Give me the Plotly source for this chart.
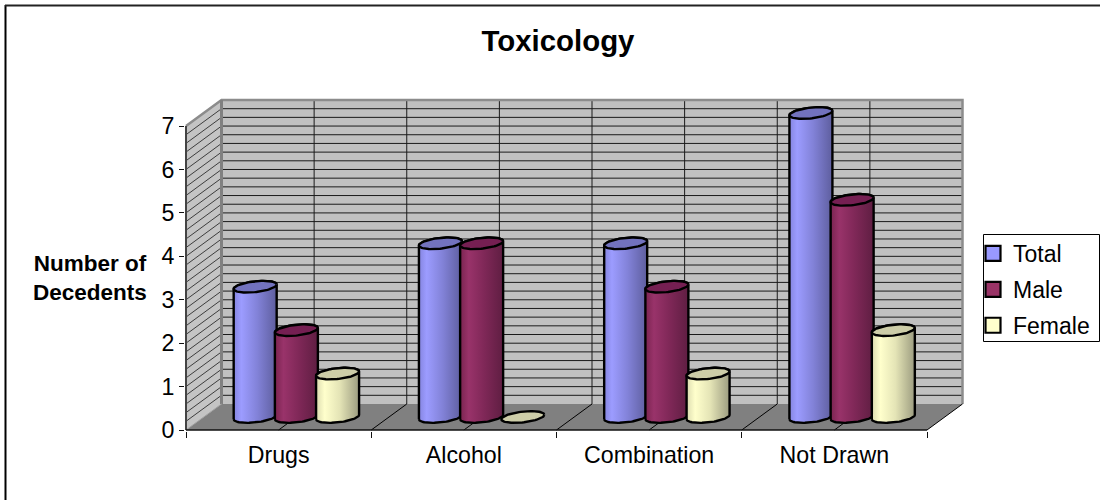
import numpy as np
import plotly.graph_objects as go

categories = ["Drugs", "Alcohol", "Combination", "Not Drawn"]
total = [3, 4, 4, 7]
male = [2, 4, 3, 5]
female = [1, 0, 1, 2]
y_ticks = [0, 1, 2, 3, 4, 5, 6, 7]

W, H = 1100, 500
X0, X4, Y7, Y0 = 186, 927, 126, 430
PX_X = (X4 - X0) / 4
PX_Y = (Y0 - Y7) / 7
FONT = "Liberation Sans, Arial, sans-serif"

# oblique depth of the box, in axis units
DX = 35.5 / PX_X
DY = 26 / PX_Y
BAR_OFFSET = 41.2 / PX_X
RX = 21.5 / PX_X
RY = 5.4 / PX_Y
TILT = 2.2 / PX_Y

# plot area slightly larger than the oblique box so its edges are not clipped
L, R, T, B = 185, 965, 98, 431
xrange_ = [(L - X0) / PX_X, (R - X0) / PX_X]
yrange_ = [(Y0 - B) / PX_Y, (Y0 - T) / PX_Y]


def paper_x(px):
    return (px - L) / (R - L)


def paper_y(px):
    return (B - px) / (B - T)


series = [
    ("Total", total, "#9999FF", "#7272BE",
     [[0, "#8585E0"], [0.18, "#9C9CFF"], [0.55, "#8282D8"], [1, "#5E5E9E"]]),
    ("Male", male, "#993366", "#751F52",
     [[0, "#7A2450"], [0.2, "#99336A"], [0.55, "#802858"], [1, "#5F1E42"]]),
    ("Female", female, "#FFFFCC", "#CDCDA8",
     [[0, "#DCDCB0"], [0.2, "#FFFFCC"], [0.55, "#E4E4B6"], [1, "#9C9C80"]]),
]

fig = go.Figure()


def poly(xs, ys, fill=None, line="rgba(0,0,0,0)", width=0, grad=None):
    kw = dict(x=list(xs), y=list(ys), mode="lines", hoverinfo="skip", showlegend=False,
              line=dict(color=line, width=width))
    if fill or grad:
        kw["fill"] = "toself"
    if fill:
        kw["fillcolor"] = fill
    if grad:
        kw["fillgradient"] = dict(type="horizontal", colorscale=grad)
    fig.add_trace(go.Scatter(**kw))


# walls and floor
poly([0, DX, DX, 0, 0], [0, DY, 7 + DY, 7, 0], fill="#C4C4C4")
poly([DX, 4 + DX, 4 + DX, DX, DX], [DY, DY, 7 + DY, 7 + DY, DY], fill="#C0C0C0")
poly([0, 4, 4 + DX, DX, 0], [0, 0, DY, DY, 0], fill="#808080")

# gridlines on the walls
levels = [i / 5 for i in range(1, 35)]
gx, gy, sx, sy = [], [], [], []
for v in levels:
    gx += [DX, 4 + DX, None]
    gy += [v + DY, v + DY, None]
    sx += [0, DX, None]
    sy += [v, v + DY, None]
poly(gx, gy, line="#1A1A1A", width=1)
poly(sx, sy, line="#1A1A1A", width=0.8)

vx, vy, fx, fy = [], [], [], []
for i in range(1, 8):
    c = i / 2
    vx += [c + DX, c + DX, None]
    vy += [DY, 7 + DY, None]
    fx += [c, c + DX, None]
    fy += [0, DY, None]
poly(vx, vy, line="#1A1A1A", width=1)
poly(fx, fy, line="#000000", width=1)

# grey box edges
poly([0, DX, 4 + DX, 4 + DX], [7, 7 + DY, 7 + DY, DY], line="#8C8C8C", width=2.5)
poly([DX, DX], [DY, 7 + DY], line="#808080", width=3)
poly([0, DX], [0, DY], line="#A0A0A0", width=1)
poly([4, 4 + DX], [0, DY], line="#000000", width=1)

# the visible axis lines stop at the front of the box
poly([0, 0], [0, 7], line="#444444", width=2)
poly([0, 4], [0, 0], line="#111111", width=1.5)


def ellipse_point(cx, cy, t):
    return cx + RX * np.cos(t), cy + RY * np.sin(t) + TILT * np.cos(t)


# cylinders
for c in range(len(categories)):
    for k, (name, values, colour, cap, grad) in enumerate(series):
        v = values[c]
        cx = c + 0.5 + DX / 2 + (k - 1) * BAR_OFFSET
        cy0 = DY / 2
        cy1 = cy0 + v
        if v > 0:
            tb = np.linspace(np.pi, 2 * np.pi, 40)
            bx, by = ellipse_point(cx, cy0, tb)
            tt = np.linspace(0, np.pi, 40)
            ux, uy = ellipse_point(cx, cy1, tt)
            px = np.concatenate([bx, ux, bx[:1]])
            py = np.concatenate([by, uy, by[:1]])
            poly(px, py, line="#000000", width=2.4, grad=grad)
        t = np.linspace(0, 2 * np.pi, 80)
        ex, ey = ellipse_point(cx, cy1, t)
        poly(ex, ey, fill=cap, line="#000000", width=2.4)

# legend swatches
for name, values, colour, cap, grad in series:
    fig.add_trace(go.Scatter(
        x=[None], y=[None], mode="markers", name=name, legendgroup=name,
        marker=dict(symbol="square", size=15, color=colour,
                    line=dict(color="#000000", width=2.2))))

tick_font = dict(family=FONT, size=23.2, color="#000000")

fig.update_layout(
    width=W, height=H,
    margin=dict(l=L, r=W - R, t=T, b=H - B, pad=0, autoexpand=False),
    paper_bgcolor="#FFFFFF", plot_bgcolor="rgba(0,0,0,0)",
    hovermode=False,
    xaxis=dict(
        range=xrange_, showgrid=False, zeroline=False, showline=False,
        tickmode="array", tickvals=[i + 0.5 for i in range(4)], ticktext=categories,
        ticks="", tickfont=tick_font, ticklabelstandoff=8,
        minor=dict(tickmode="linear", tick0=0, dtick=1, ticks="outside",
                   ticklen=6, tickwidth=1, tickcolor="#111111", showgrid=False),
    ),
    yaxis=dict(
        range=yrange_, showgrid=False, zeroline=False, showline=False,
        tickmode="array", tickvals=y_ticks, ticks="outside", ticklen=5,
        tickwidth=1, tickcolor="#111111", tickfont=tick_font,
    ),
    title=dict(text="<b>Toxicology</b>", x=558 / W, xanchor="center", y=1 - 41 / H,
               yanchor="middle", font=dict(family=FONT, size=29.4, color="#000000")),
    legend=dict(
        x=paper_x(973), xanchor="left", y=paper_y(232), yanchor="top",
        bgcolor="rgba(0,0,0,0)", borderwidth=0,
        font=dict(family=FONT, size=23, color="#000000"),
        traceorder="grouped", tracegroupgap=3, itemwidth=30,
    ),
    annotations=[dict(
        text="<b>Number of<br>Decedents</b>", xref="paper", yref="paper",
        x=paper_x(89.5), y=paper_y(278), xanchor="center", yanchor="middle",
        showarrow=False, align="center", font=dict(family=FONT, size=22.5, color="#000000"),
    )],
    shapes=[
        dict(type="line", xref="paper", yref="paper", layer="above",
             x0=paper_x(5.5), x1=paper_x(5.5), y0=paper_y(5), y1=paper_y(500),
             line=dict(color="#000000", width=2)),
        dict(type="line", xref="paper", yref="paper", layer="above",
             x0=paper_x(5), x1=paper_x(1100), y0=paper_y(5.5), y1=paper_y(5.5),
             line=dict(color="#222222", width=2)),
        dict(type="rect", xref="paper", yref="paper", layer="below",
             x0=paper_x(983.5), x1=paper_x(1099.5), y0=paper_y(234.5), y1=paper_y(341.5),
             fillcolor="#FFFFFF", line=dict(color="#000000", width=1)),
    ],
)

fig.write_html("out.html", config=dict(displayModeBar=False, responsive=False),
               post_script="document.body.style.margin='0';")
